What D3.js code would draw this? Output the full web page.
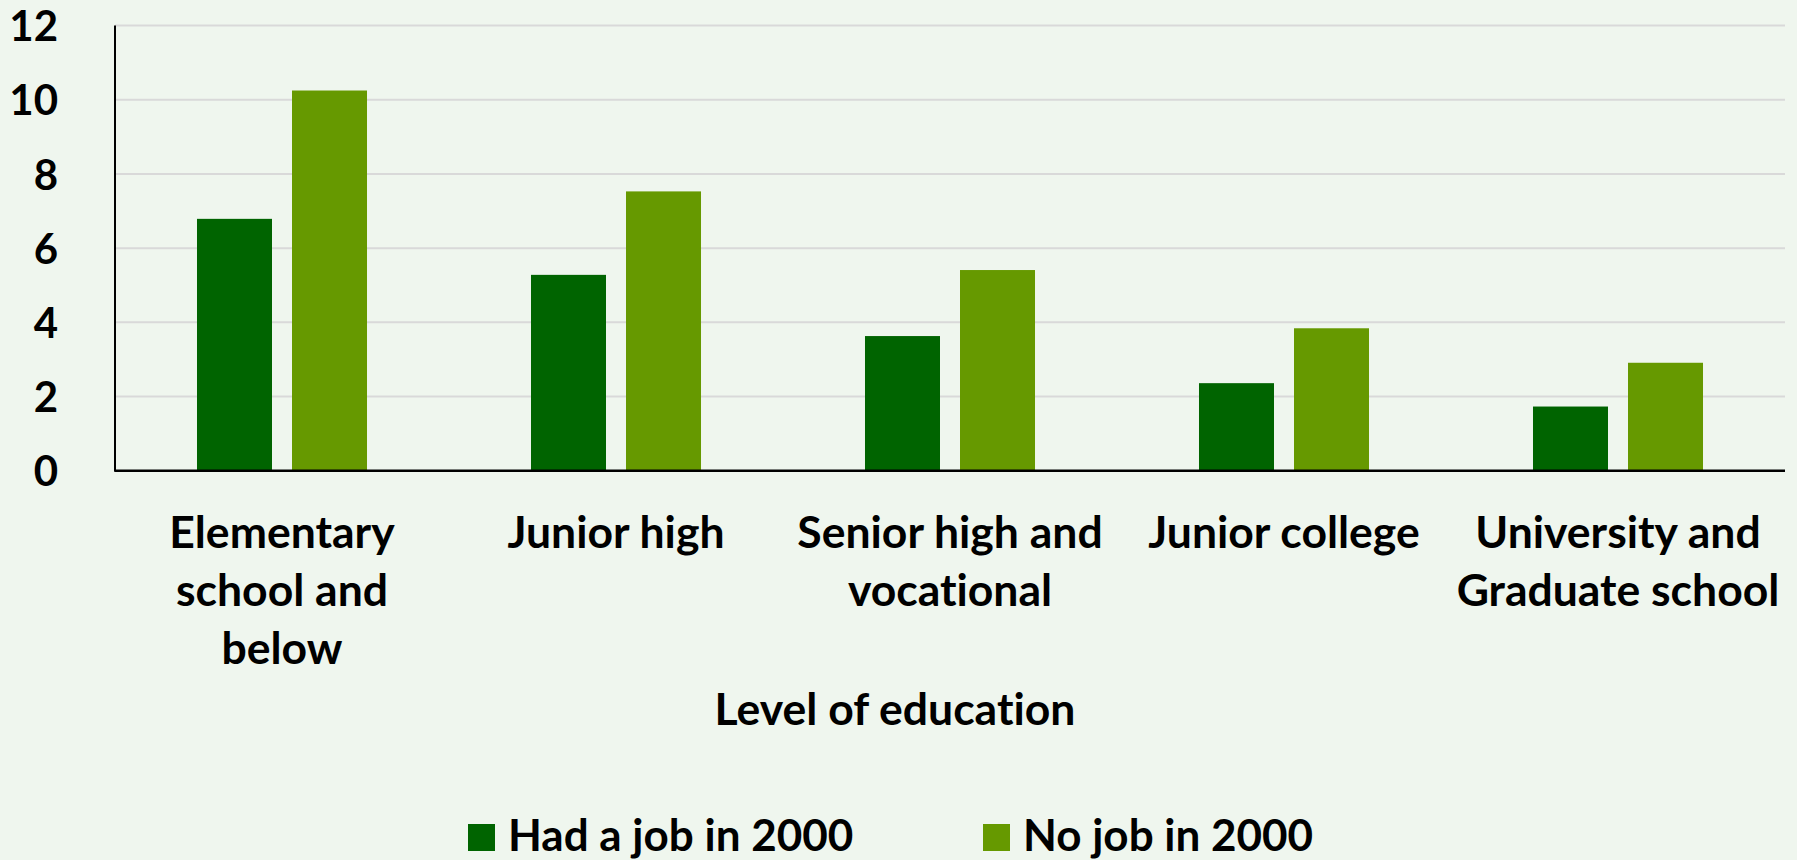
<!DOCTYPE html>
<html>
<head>
<meta charset="utf-8">
<script src="https://cdn.jsdelivr.net/npm/d3@7"></script>
<style>
  html, body { margin: 0; padding: 0; background: #eff6ee; }
  svg { display: block; }
  text { font-family: Lato, "Open Sans", sans-serif; font-weight: bold; fill: #000;
         font-variant-ligatures: none; font-feature-settings: "liga" 0, "clig" 0; }
</style>
</head>
<body>
<svg id="chart" width="1797" height="860"></svg>
<script>
const categories = ["Elementary school and below", "Junior high", "Senior high and vocational", "Junior college", "University and Graduate school"];
const categoryLines = [
  ["Elementary", "school and", "below"],
  ["Junior high"],
  ["Senior high and", "vocational"],
  ["Junior college"],
  ["University and", "Graduate school"]
];
const seriesNames = ["Had a job in 2000", "No job in 2000"];
const hadJob = [6.79, 5.28, 3.63, 2.36, 1.73];
const noJob = [10.25, 7.53, 5.41, 3.84, 2.91];
const yTicks = [0, 2, 4, 6, 8, 10, 12];
const xTitle = "Level of education";
const colors = ["#006400", "#669900"];

(function () {
const svg = d3.select("#chart");
const W = 1797, H = 860;
svg.append("rect").attr("width", W).attr("height", H).attr("fill", "#eff6ee");

const pL = 115, pR = 1785, pT = 25.6, pB = 470.7;
const x0 = d3.scaleBand().domain(categories).range([pL, pR]).padding(0);
const x1 = d3.scaleBand().domain(seriesNames).range([0, x0.bandwidth()])
  .paddingInner(20 / 95).paddingOuter(0.863);
const y = d3.scaleLinear().domain([0, 12]).range([pB, pT]);

// gridlines
svg.append("g").selectAll("line").data(yTicks.filter(d => d > 0)).join("line")
  .attr("x1", pL).attr("x2", pR)
  .attr("y1", d => y(d)).attr("y2", d => y(d))
  .attr("stroke", "#d9d9d9").attr("stroke-width", 2);

// bars
const data = categories.map((c, i) => ({ cat: c, vals: [hadJob[i], noJob[i]] }));
const groups = svg.append("g").selectAll("g").data(data).join("g")
  .attr("transform", d => `translate(${x0(d.cat)},0)`);
groups.selectAll("rect").data(d => d.vals.map((v, j) => ({ s: seriesNames[j], v, j }))).join("rect")
  .attr("x", d => x1(d.s)).attr("width", x1.bandwidth())
  .attr("y", d => y(d.v)).attr("height", d => y(0) - y(d.v))
  .attr("fill", d => colors[d.j]);

// axes lines
svg.append("line").attr("x1", pL).attr("x2", pL).attr("y1", pT).attr("y2", pB + 1)
  .attr("stroke", "#000").attr("stroke-width", 2);
svg.append("line").attr("x1", pL).attr("x2", pR).attr("y1", pB).attr("y2", pB)
  .attr("stroke", "#000").attr("stroke-width", 2.5);

// y tick labels
const yAxis = d3.axisLeft(y).tickValues(yTicks).tickSize(0).tickPadding(0);
const yg = svg.append("g").attr("transform", `translate(58,0)`).call(yAxis);
yg.select(".domain").remove();
yg.selectAll("text").attr("font-size", 42).attr("font-family", "Lato, sans-serif")
  .attr("font-weight", "bold").attr("fill", "#000").attr("dy", "0.36em");

// x category labels
const xl = svg.append("g").selectAll("text").data(categories).join("text")
  .attr("x", d => x0(d) + x0.bandwidth() / 2)
  .attr("y", 548)
  .attr("text-anchor", "middle")
  .attr("font-size", 44.5);
xl.each(function(d, i) {
  const t = d3.select(this);
  categoryLines[i].forEach((ln, k) => {
    t.append("tspan").attr("x", x0(d) + x0.bandwidth() / 2).attr("y", 548 + k * 58).text(ln);
  });
});

// x title
svg.append("text").attr("x", 895).attr("y", 725).attr("text-anchor", "middle")
  .attr("font-size", 44.5).text(xTitle);

// legend
const legX = [468, 983];
const leg = svg.append("g").selectAll("g").data(seriesNames).join("g")
  .attr("transform", (d, i) => `translate(${legX[i]},0)`);
leg.append("rect").attr("x", 0).attr("y", 824).attr("width", 27).attr("height", 27)
  .attr("fill", (d, i) => colors[i]);
leg.append("text").attr("x", 40).attr("y", 851).attr("font-size", 44).text(d => d);
})();
</script>
</body>
</html>
